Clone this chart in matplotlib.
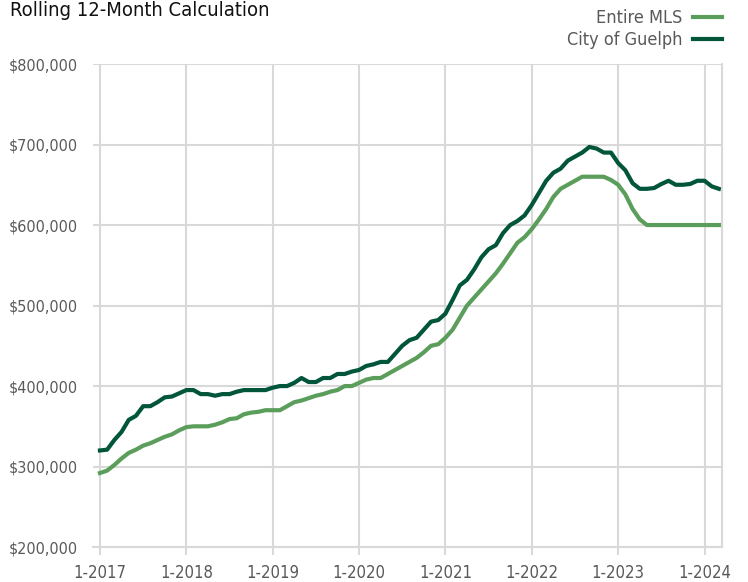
import matplotlib.pyplot as plt
from matplotlib import font_manager
from matplotlib.ticker import FuncFormatter

# monthly rolling 12-month average price, 1-2017 .. 3-2024 (thousands $)
guelph = [
    320, 321, 333, 343, 358, 363, 375, 375, 380, 386, 387, 391,
    395, 395, 390, 390, 388, 390, 390, 393, 395, 395, 395, 395,
    398, 400, 400, 404, 410, 405, 405, 410, 410, 415, 415, 418,
    420, 425, 427, 430, 430, 440, 450, 457, 460, 470, 480, 482,
    490, 507, 525, 532, 545, 560, 570, 575, 590, 600, 605, 612,
    625, 640, 655, 665, 670, 680, 685, 690, 697, 695, 690, 690,
    677, 668, 652, 645, 645, 646, 651, 655, 650, 650, 651, 655,
    655, 648, 645,
]
entire_mls = [
    292, 295, 302, 310, 317, 321, 326, 329, 333, 337, 340, 345,
    349, 350, 350, 350, 352, 355, 359, 360, 365, 367, 368, 370,
    370, 370, 375, 380, 382, 385, 388, 390, 393, 395, 400, 400,
    404, 408, 410, 410, 415, 420, 425, 430, 435, 442, 450, 452,
    460, 470, 485, 500, 510, 520, 530, 540, 552, 565, 578, 585,
    595, 607, 620, 635, 645, 650, 655, 660, 660, 660, 660, 656,
    650, 638, 620, 607, 600, 600, 600, 600, 600, 600, 600, 600,
    600, 600, 600,
]
year_labels = ["1-2017", "1-2018", "1-2019", "1-2020", "1-2021", "1-2022", "1-2023", "1-2024"]
y_ticks = [200000, 300000, 400000, 500000, 600000, 700000, 800000]

# look for a narrow sans face; the reference uses a condensed font
cond_file = None
for f in font_manager.fontManager.ttflist:
    low = f.fname.lower()
    if ("narrow" in low or "condensed" in low) and "bold" not in low and "oblique" not in low \
            and "italic" not in low and "mono" not in low and "serif" not in low.replace("sans", ""):
        cond_file = f.fname
        break

if cond_file:
    font_manager.fontManager.addfont(cond_file)
    cond_name = font_manager.FontProperties(fname=cond_file).get_name()
    plt.rcParams["font.family"] = [cond_name, "DejaVu Sans"]
    if "condensed" in cond_file.lower():
        plt.rcParams["font.stretch"] = "condensed"
else:
    plt.rcParams["font.family"] = ["DejaVu Sans"]

LIGHT = "#5b9e5c"
DARK = "#00553b"
GRID = "#d9d9d9"
TEXT = "#595959"

months = list(range(len(guelph)))

fig = plt.figure(figsize=(7.48, 5.82), dpi=100)
ax = fig.add_axes([0.124, 0.060, 0.841, 0.830])

ax.plot(months, [v * 1000 for v in entire_mls], color=LIGHT, linewidth=3, label="Entire MLS",
        solid_joinstyle="round")
ax.plot(months, [v * 1000 for v in guelph], color=DARK, linewidth=3, label="City of Guelph",
        solid_joinstyle="round")

ax.set_xlim(-1, 86.4)
ax.set_ylim(200000, 800000)
ax.set_xticks([12 * i for i in range(len(year_labels))])
ax.set_xticklabels(year_labels)
ax.set_yticks(y_ticks)
ax.yaxis.set_major_formatter(FuncFormatter(lambda v, p: f"${v:,.0f}"))

ax.grid(True, color=GRID, linewidth=1.5)
ax.set_axisbelow(True)
for side in ["top", "left"]:
    ax.spines[side].set_visible(False)
for side in ["bottom", "right"]:
    ax.spines[side].set_color(GRID)
    ax.spines[side].set_linewidth(1.5)
ax.tick_params(axis="x", colors=GRID, length=6, width=1.5, labelcolor=TEXT, labelsize=12, pad=6)
ax.tick_params(axis="y", length=0, labelcolor=TEXT, labelsize=11.5, pad=11)

fig.text(0.013, 0.999, "Rolling 12-Month Calculation", fontsize=14.5, color="#111111",
         ha="left", va="top")

ax.legend(loc="upper right", bbox_to_anchor=(0.987, 1.012), bbox_transform=fig.transFigure,
          frameon=False, markerfirst=False, fontsize=13, labelcolor=TEXT,
          handlelength=1.6, handletextpad=0.6, labelspacing=0.22)

plt.savefig("out.png", dpi=100)
plt.close()
